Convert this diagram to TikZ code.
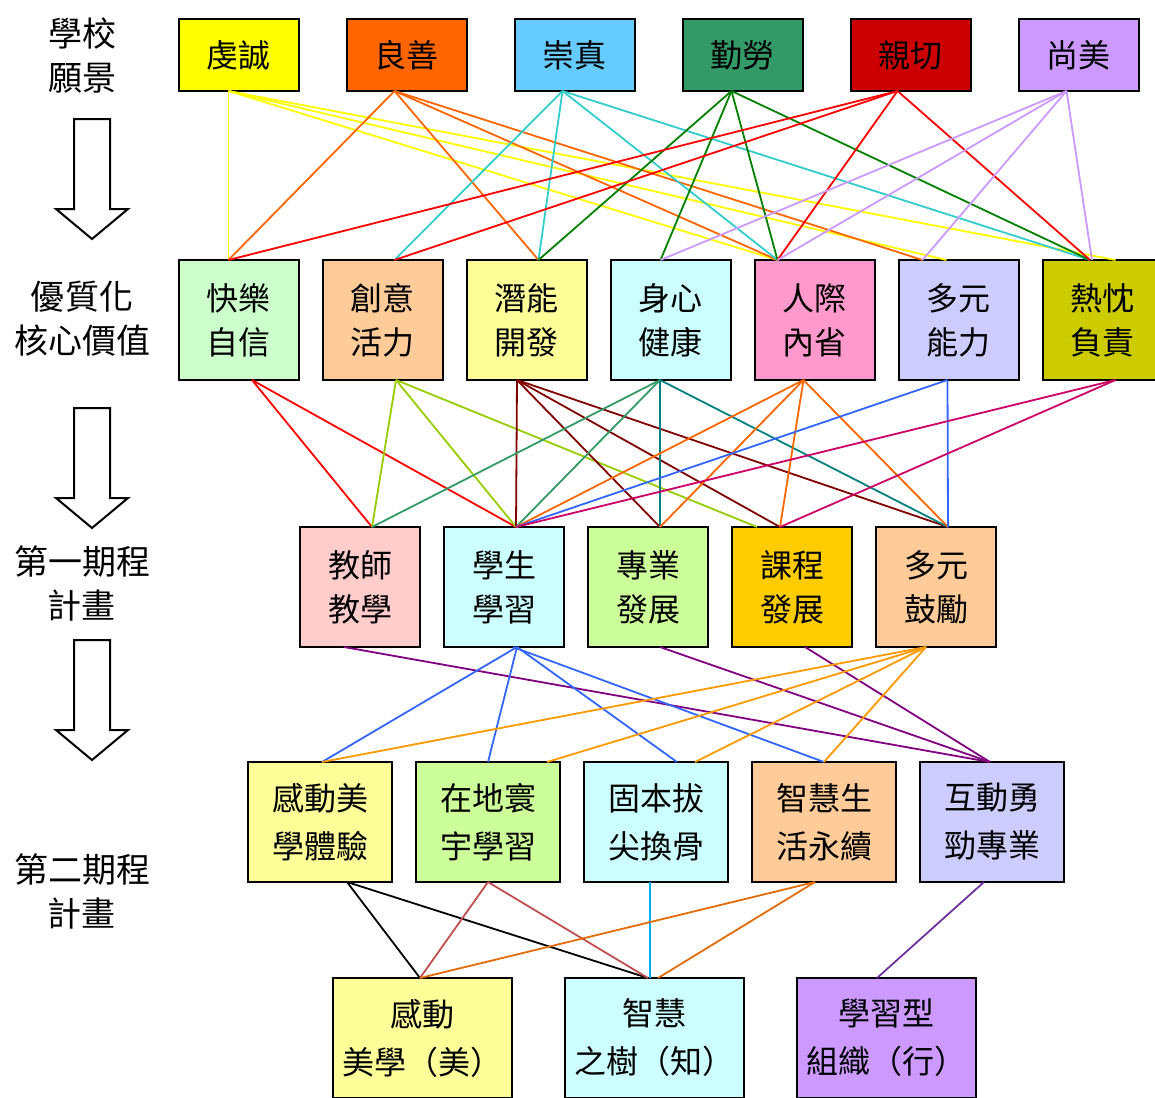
\documentclass[tikz,border=0pt]{standalone}
\usepackage{fontspec}
\setmainfont{Noto Sans CJK TC}
\usetikzlibrary{positioning}

\definecolor{fYellow}{HTML}{FFFF00}
\definecolor{fOrange}{HTML}{FF6600}
\definecolor{fSky}{HTML}{66CCFF}
\definecolor{fSea}{HTML}{339966}
\definecolor{fRed}{HTML}{CC0000}
\definecolor{fLilac}{HTML}{CC99FF}
\definecolor{fMint}{HTML}{CCFFCC}
\definecolor{fPeach}{HTML}{FFCC99}
\definecolor{fCream}{HTML}{FFFF99}
\definecolor{fIce}{HTML}{CCFFFF}
\definecolor{fPink}{HTML}{FF99CC}
\definecolor{fPeri}{HTML}{CCCCFF}
\definecolor{fOlive}{HTML}{CCCC00}
\definecolor{fRose}{HTML}{FFCCCC}
\definecolor{fLime}{HTML}{CCFF99}
\definecolor{fGold}{HTML}{FFCC00}
\definecolor{lCyan}{HTML}{33CCCC}
\definecolor{lGreen}{HTML}{008000}
\definecolor{lRed}{HTML}{FF0000}
\definecolor{lYgreen}{HTML}{99CC00}
\definecolor{lMaroon}{HTML}{800000}
\definecolor{lTeal}{HTML}{008080}
\definecolor{lBlue}{HTML}{3366FF}
\definecolor{lMagenta}{HTML}{CC0066}
\definecolor{lPurple}{HTML}{800080}
\definecolor{lAmber}{HTML}{FF9900}
\definecolor{lBrick}{HTML}{C0504D}
\definecolor{lAzure}{HTML}{00B0F0}
\definecolor{lRust}{HTML}{E36C09}
\definecolor{lViolet}{HTML}{7030A0}

\begin{document}
\begin{tikzpicture}[
    x=0.5pt, y=-0.5pt,
    visionbox/.style={
        rectangle, draw=black, line width=1pt,
        minimum width=60pt, minimum height=36pt,
        inner sep=0pt, outer sep=0pt, text centered,
        font=\fontsize{16pt}{22pt}\selectfont
    },
    valuebox/.style={visionbox, minimum height=60pt, align=center},
    planbox/.style={valuebox, minimum width=72pt, font=\fontsize{16pt}{24pt}\selectfont},
    goalbox/.style={valuebox, minimum width=89.5pt, font=\fontsize{16pt}{24pt}\selectfont},
    stagetag/.style={align=center, font=\fontsize{17pt}{22pt}\selectfont},
    link/.style={line width=0.9pt}
]

\useasboundingbox (0,0) rectangle (1155,1097);

\node[stagetag] (tagvision) at (82,55) {學校\\願景};
\node[stagetag] (tagvalue) at (82,319) {優質化\\核心價值};
\node[stagetag] (tagfirst) at (82,583) {第一期程\\計畫};
\node[stagetag] (tagsecond) at (82,891) {第二期程\\計畫};

\draw[line width=1pt] (74,119) -- (110,119) -- (110,209) -- (128,209) -- (92,239) -- (56,209) -- (74,209) -- cycle;
\draw[line width=1pt] (74,408) -- (110,408) -- (110,498) -- (128,498) -- (92,528) -- (56,498) -- (74,498) -- cycle;
\draw[line width=1pt] (74,640) -- (110,640) -- (110,730) -- (128,730) -- (92,760) -- (56,730) -- (74,730) -- cycle;

\node[visionbox, fill=fYellow] (v1) at (238.5,55) {虔誠};
\node[visionbox, fill=fOrange, right=24pt of v1] (v2) {良善};
\node[visionbox, fill=fSky, right=24pt of v2] (v3) {崇真};
\node[visionbox, fill=fSea, right=24pt of v3] (v4) {勤勞};
\node[visionbox, fill=fRed, right=24pt of v4] (v5) {親切};
\node[visionbox, fill=fLilac, right=24pt of v5] (v6) {尚美};

\node[valuebox, fill=fMint] (k1) at (238.5,320) {快樂\\自信};
\node[valuebox, fill=fPeach, right=12pt of k1] (k2) {創意\\活力};
\node[valuebox, fill=fCream, right=12pt of k2] (k3) {潛能\\開發};
\node[valuebox, fill=fIce, right=12pt of k3] (k4) {身心\\健康};
\node[valuebox, fill=fPink, right=12pt of k4] (k5) {人際\\內省};
\node[valuebox, fill=fPeri, right=12pt of k5] (k6) {多元\\能力};
\node[valuebox, fill=fOlive, right=12pt of k6] (k7) {熱忱\\負責};

\node[valuebox, fill=fRose] (a1) at (360,587) {教師\\教學};
\node[valuebox, fill=fIce, right=12pt of a1] (a2) {學生\\學習};
\node[valuebox, fill=fLime, right=12pt of a2] (a3) {專業\\發展};
\node[valuebox, fill=fGold, right=12pt of a3] (a4) {課程\\發展};
\node[valuebox, fill=fPeach, right=12pt of a4] (a5) {多元\\鼓勵};

\node[planbox, fill=fCream] (b1) at (320,822) {感動美\\學體驗};
\node[planbox, fill=fLime, right=12pt of b1] (b2) {在地寰\\宇學習};
\node[planbox, fill=fIce, right=12pt of b2] (b3) {固本拔\\尖換骨};
\node[planbox, fill=fPeach, right=12pt of b3] (b4) {智慧生\\活永續};
\node[planbox, fill=fPeri, right=12pt of b4] (b5) {互動勇\\勁專業};

\node[goalbox, fill=fCream] (g1) at (422.5,1038) {感動\\美學（美）};
\node[goalbox, fill=fIce, right=26.5pt of g1] (g2) {智慧\\之樹（知）};
\node[goalbox, fill=fLilac, right=26.5pt of g2] (g3) {學習型\\組織（行）};

\draw[link, fYellow] ([xshift=-5pt]v1.south) -- ([xshift=-5pt]k1.north);
\draw[link, fYellow] ([xshift=-5pt]v1.south) -- ([xshift=-18.5pt]k5.north);
\draw[link, fYellow] ([xshift=-5pt]v1.south) -- ([xshift=-6pt]k6.north);
\draw[link, fYellow] ([xshift=-5pt]v1.south) -- ([xshift=6.5pt]k7.north);
\draw[link, fOrange] ([xshift=-6pt]v2.south) -- ([xshift=-5pt]k1.north);
\draw[link, fOrange] ([xshift=-6pt]v2.south) -- ([xshift=6pt]k3.north);
\draw[link, fOrange] ([xshift=-6pt]v2.south) -- ([xshift=-18.5pt]k5.north);
\draw[link, fOrange] ([xshift=-6pt]v2.south) -- ([xshift=-18pt]k6.north);
\draw[link, lCyan] ([xshift=-6pt]v3.south) -- ([xshift=6pt]k2.north);
\draw[link, lCyan] ([xshift=-6pt]v3.south) -- ([xshift=6pt]k3.north);
\draw[link, lCyan] ([xshift=-6pt]v3.south) -- ([xshift=-18.5pt]k5.north);
\draw[link, lCyan] ([xshift=-6pt]v3.south) -- ([xshift=-6.25pt]k7.north);
\draw[link, lGreen] ([xshift=-5.5pt]v4.south) -- ([xshift=6pt]k3.north);
\draw[link, lGreen] ([xshift=-5.5pt]v4.south) -- ([xshift=-5pt]k4.north);
\draw[link, lGreen] ([xshift=-5.5pt]v4.south) -- ([xshift=-18.5pt]k5.north);
\draw[link, lGreen] ([xshift=-5.5pt]v4.south) -- ([xshift=-6.25pt]k7.north);
\draw[link, lRed] ([xshift=-6.5pt]v5.south) -- ([xshift=-5pt]k1.north);
\draw[link, lRed] ([xshift=-6.5pt]v5.south) -- ([xshift=6pt]k2.north);
\draw[link, lRed] ([xshift=-6.5pt]v5.south) -- ([xshift=-18.5pt]k5.north);
\draw[link, lRed] ([xshift=-6.5pt]v5.south) -- ([xshift=-6.25pt]k7.north);
\draw[link, fLilac] ([xshift=-6pt]v6.south) -- ([xshift=-5pt]k4.north);
\draw[link, fLilac] ([xshift=-6pt]v6.south) -- ([xshift=-18.5pt]k5.north);
\draw[link, fLilac] ([xshift=-6pt]v6.south) -- ([xshift=-18pt]k6.north);
\draw[link, fLilac] ([xshift=-6pt]v6.south) -- ([xshift=-5.25pt]k7.north);

\draw[link, lRed] ([xshift=6.75pt]k1.south) -- ([xshift=6pt]a1.north);
\draw[link, lRed] ([xshift=6.75pt]k1.south) -- ([xshift=6pt]a2.north);
\draw[link, lYgreen] ([xshift=6.75pt]k2.south) -- ([xshift=6pt]a1.north);
\draw[link, lYgreen] ([xshift=6.75pt]k2.south) -- ([xshift=6pt]a2.north);
\draw[link, lYgreen] ([xshift=6.75pt]k2.south) -- ([xshift=-17.5pt]a4.north);
\draw[link, lMaroon] ([xshift=-4.75pt]k3.south) -- ([xshift=6pt]a2.north);
\draw[link, lMaroon] ([xshift=-4.75pt]k3.south) -- ([xshift=6pt]a3.north);
\draw[link, lMaroon] ([xshift=-4.75pt]k3.south) -- ([xshift=-6pt]a4.north);
\draw[link, lMaroon] ([xshift=-4.75pt]k3.south) -- ([xshift=6pt]a5.north);
\draw[link, fSea] ([xshift=-5.25pt]k4.south) -- ([xshift=6pt]a1.north);
\draw[link, fSea] ([xshift=-5.25pt]k4.south) -- ([xshift=6pt]a2.north);
\draw[link, lTeal] ([xshift=-5.25pt]k4.south) -- ([xshift=6pt]a3.north);
\draw[link, lTeal] ([xshift=-5.25pt]k4.south) -- ([xshift=6pt]a5.north);
\draw[link, fOrange] ([xshift=-5.5pt]k5.south) -- ([xshift=6pt]a2.north);
\draw[link, fOrange] ([xshift=-5.5pt]k5.south) -- ([xshift=6pt]a3.north);
\draw[link, fOrange] ([xshift=-5.5pt]k5.south) -- ([xshift=-6pt]a4.north);
\draw[link, fOrange] ([xshift=-5.5pt]k5.south) -- ([xshift=6pt]a5.north);
\draw[link, lBlue] ([xshift=-5.5pt]k6.south) -- ([xshift=6pt]a2.north);
\draw[link, lBlue] ([xshift=-5.5pt]k6.south) -- ([xshift=6pt]a5.north);
\draw[link, lMagenta] ([xshift=6.5pt]k7.south) -- ([xshift=6pt]a2.north);
\draw[link, lMagenta] ([xshift=6.5pt]k7.south) -- ([xshift=-6pt]a4.north);

\draw[link, lPurple] ([xshift=-8pt]a1.south) -- ([xshift=-1pt]b5.north);
\draw[link, lPurple] ([xshift=6pt]a3.south) -- ([xshift=-1pt]b5.north);
\draw[link, lPurple] ([xshift=6.5pt]a4.south) -- ([xshift=-1pt]b5.north);
\draw[link, lBlue] ([xshift=6.5pt]a2.south) -- ([xshift=1pt]b1.north);
\draw[link, lBlue] ([xshift=6.5pt]a2.south) -- (b2.north);
\draw[link, lBlue] ([xshift=6.5pt]a2.south) -- ([xshift=10.5pt]b3.north);
\draw[link, lBlue] ([xshift=4.5pt]a2.south) -- (b4.north);
\draw[link, lAmber] ([xshift=-5pt]a5.south) -- ([xshift=1pt]b1.north);
\draw[link, lAmber] ([xshift=-5pt]a5.south) -- ([xshift=29.5pt]b2.north);
\draw[link, lAmber] ([xshift=-5pt]a5.south) -- ([xshift=19.5pt]b3.north);
\draw[link, lAmber] ([xshift=-5pt]a5.south) -- (b4.north);

\draw[link, black] ([xshift=13.5pt]b1.south) -- ([xshift=-1.25pt]g1.north);
\draw[link, black] ([xshift=13.5pt]b1.south) -- ([xshift=-3.25pt]g2.north);
\draw[link, lBrick] (b2.south) -- ([xshift=-1.25pt]g1.north);
\draw[link, lBrick] (b2.south) -- ([xshift=-3.25pt]g2.north);
\draw[link, lAzure] ([xshift=-3pt]b3.south) -- ([xshift=-2.25pt]g2.north);
\draw[link, lRust] ([xshift=-4.5pt]b4.south) -- ([xshift=-1.25pt]g1.north);
\draw[link, lRust] ([xshift=-4.5pt]b4.south) -- ([xshift=1.75pt]g2.north);
\draw[link, lViolet] ([xshift=-4pt]b5.south) -- ([xshift=-4.75pt]g3.north);

\end{tikzpicture}
\end{document}
